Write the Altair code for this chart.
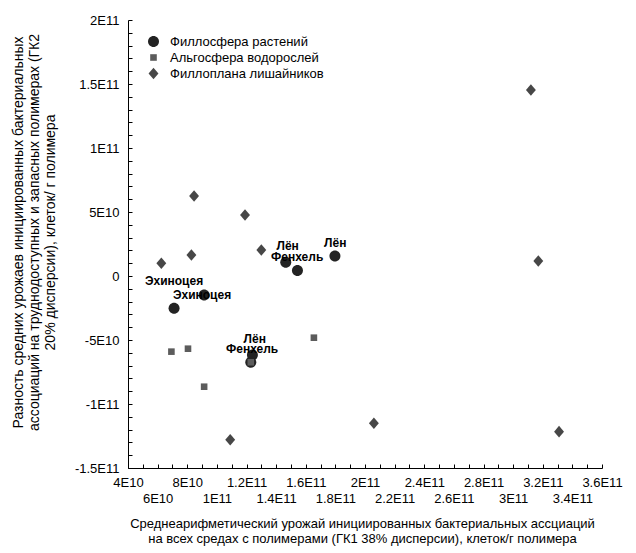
import altair as alt
import pandas as pd

# ---------------- data ----------------
series_names = ["Филлосфера растений", "Альгосфера водорослей", "Филлоплана лишайников"]

phyllo_x = [7.11e10, 9.14e10, 1.465e11, 1.544e11, 1.797e11, 1.24e11, 1.229e11]
phyllo_y = [-2.52e10, -1.48e10, 1.07e10, 4.2e9, 1.56e10, -6.17e10, -6.74e10]

algo_x = [6.93e10, 8.05e10, 9.14e10, 1.229e11, 1.655e11]
algo_y = [-5.91e10, -5.68e10, -8.65e10, -6.74e10, -4.82e10]

lichen_x = [6.25e10, 8.28e10, 8.46e10, 1.09e11, 1.19e11, 1.30e11, 2.06e11, 3.12e11, 3.17e11, 3.31e11]
lichen_y = [9.9e9, 1.64e10, 6.25e10, -1.28e11, 4.77e10, 2.03e10, -1.15e11, 1.453e11, 1.17e10, -1.216e11]

label_text = ["Эхиноцея", "Эхиноцея", "Лён", "Фенхель", "Лён", "Лён", "Фенхель"]
label_x = [7.11e10, 9.0e10, 1.478e11, 1.542e11, 1.799e11, 1.256e11, 1.238e11]
label_y = [-3.9e9, -1.48e10, 2.34e10, 1.51e10, 2.58e10, -4.92e10, -5.73e10]

x_tick_values = [4e10, 6e10, 8e10, 1e11, 1.2e11, 1.4e11, 1.6e11, 1.8e11, 2e11,
                 2.2e11, 2.4e11, 2.6e11, 2.8e11, 3e11, 3.2e11, 3.4e11, 3.6e11]
y_tick_values = [-1.5e11, -1e11, -5e10, 0, 5e10, 1e11, 1.5e11, 2e11]

x_title = ["Среднеарифметический урожай инициированных бактериальных ассциаций",
           "на всех средах с полимерами (ГК1 38% дисперсии), клеток/г полимера"]
y_title = ["Разность средних урожаев инициированных бактериальных",
           "ассоциаций на труднодоступных и запасных полимерах (ГК2",
           "20% дисперсии), клеток/ г полимера"]

# ---------------- tables ----------------
pts = pd.DataFrame({
    "x": phyllo_x + algo_x + lichen_x,
    "y": phyllo_y + algo_y + lichen_y,
    "s": [series_names[0]] * len(phyllo_x) + [series_names[1]] * len(algo_x)
         + [series_names[2]] * len(lichen_x),
})
pts["order"] = range(len(pts))
labels = pd.DataFrame({"lx": label_x, "ly": label_y, "t": label_text})

W, H = 474, 448
FONT = "Liberation Sans"
XDOM = [4e10, 3.6e11]
YDOM = [-1.5e11, 2e11]
xs = alt.Scale(domain=XDOM, nice=False, zero=False)
ys = alt.Scale(domain=YDOM, nice=False, zero=False)

SYM = 121
shape_circle = "M1,0A1,1,0,1,1,-1,0A1,1,0,1,1,1,0Z"
shape_square = "M-0.6,-0.6L0.6,-0.6L0.6,0.6L-0.6,0.6Z"
shape_diamond = "M-0.9,0L0,-1.05L0.9,0L0,1.05Z"

fmt = ("datum.value == 0 ? '0' : (datum.value < 0 ? '-' : '') + "
       "replace(format(abs(datum.value), '.2~e'), 'e+', 'E')")

x_axis = alt.Axis(
    values=x_tick_values, labelExpr=fmt, ticks=False, tickSize=0, grid=False,
    domain=True, domainColor="black", domainWidth=1,
    labelFont=FONT, labelFontSize=13, labelColor="black",
    labelOverlap=False, labelFlush=False, labelBaseline="top",
    labelPadding={"condition": {"test": "round(datum.value / 2e10) % 2 == 1", "value": 24},
                  "value": 8},
    title=x_title, titleFont=FONT, titleFontSize=13, titleFontWeight="normal",
    titleColor="black", titleX=234, titleY=55, titleAlign="center",
    titleBaseline="middle", titleLineHeight=15,
)
y_axis = alt.Axis(
    values=y_tick_values, labelExpr=fmt, ticks=False, tickSize=0, grid=False,
    domain=True, domainColor="black", domainWidth=1,
    labelFont=FONT, labelFontSize=13, labelColor="black", labelOverlap=False,
    labelPadding=9,
    title=y_title, titleFont=FONT, titleFontSize=14, titleFontWeight="normal",
    titleColor="black", titleX=-110, titleY=212, titleAngle=-90, titleAlign="center",
    titleBaseline="middle", titleLineHeight=16,
)

leg = alt.Legend(orient="none", legendX=19, legendY=15, title=None,
                 labelFont=FONT, labelFontSize=13, labelColor="black",
                 labelOffset=10, rowPadding=2, padding=0, symbolStrokeWidth=0,
                 symbolSize=SYM)

points = alt.Chart(pts).mark_point(filled=True, opacity=1, strokeWidth=0, size=SYM).encode(
    x=alt.X("x:Q", scale=xs, axis=x_axis),
    y=alt.Y("y:Q", scale=ys, axis=y_axis),
    color=alt.Color("s:N", scale=alt.Scale(domain=series_names,
                                           range=["#232323", "#5c5c5c", "#474747"]), legend=leg),
    shape=alt.Shape("s:N", scale=alt.Scale(domain=series_names,
                                           range=[shape_circle, shape_square, shape_diamond]),
                    legend=leg),
    order=alt.Order("order:Q"),
)

texts = alt.Chart(labels).mark_text(
    font=FONT, fontSize=12, fontWeight="bold", color="black",
    align="center", baseline="middle",
).encode(
    x=alt.X("lx:Q", scale=xs, axis=None),
    y=alt.Y("ly:Q", scale=ys, axis=None),
    text="t:N",
)

# inward minor ticks drawn by extra axes placed on the plot edges
tick_x_axis = alt.Axis(orient="top", offset=-H, labels=False, domain=False, grid=False,
                       tickCount=32, tickSize=4, tickColor="black", tickWidth=1, title=None)
tick_y_axis = alt.Axis(orient="right", offset=-W, labels=False, domain=False, grid=False,
                       tickCount=35, tickSize=4, tickColor="black", tickWidth=1, title=None)
ticks = alt.Chart(pts).mark_point(opacity=0).encode(
    x=alt.X("x:Q", scale=xs, axis=tick_x_axis),
    y=alt.Y("y:Q", scale=ys, axis=tick_y_axis),
)

chart = alt.layer(points, texts, ticks).resolve_scale(
    x="independent", y="independent"
).properties(
    width=W, height=H,
    autosize=alt.AutoSizeParams(type="none"),
    padding={"left": 128, "top": 20, "right": 34, "bottom": 85},
    background="white",
).configure_view(stroke=None)

chart.save("out.html", embed_options={"renderer": "svg", "actions": False})
